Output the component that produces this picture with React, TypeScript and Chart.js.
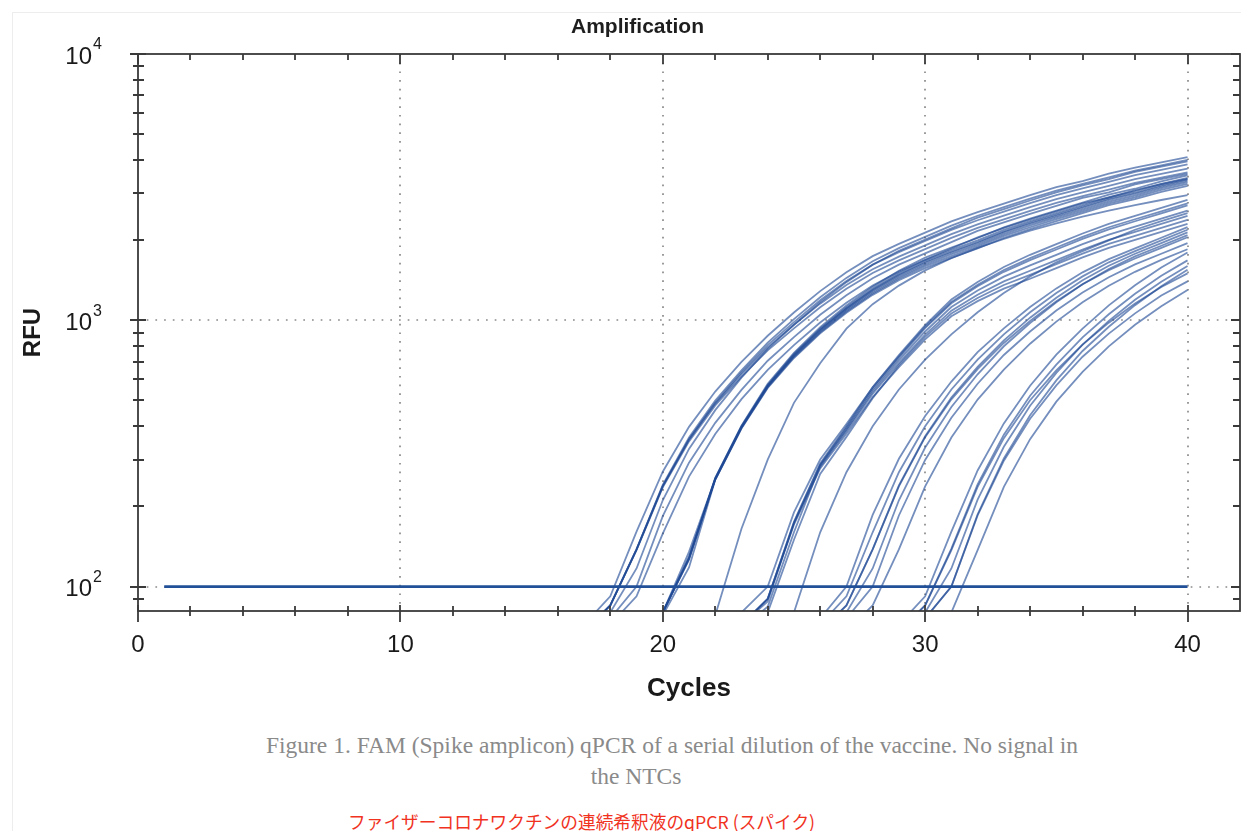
import React, { useEffect, useRef } from "react";
import { Chart, registerables } from "chart.js";

Chart.register(...registerables);

// ---------- axis definitions ----------
const xMajorTicks = [0, 10, 20, 30, 40];
const xMinorTicks = [2, 4, 6, 8, 12, 14, 16, 18, 22, 24, 26, 28, 32, 34, 36, 38];
const xGridCycles = [10, 20, 30, 40];
const yMajorTicks = [100, 1000, 10000];
const yExponents = ["2", "3", "4"];
const yMinorTicks = [90, 200, 300, 400, 500, 600, 700, 800, 900, 2000, 3000, 4000, 5000, 6000, 7000, 8000, 9000];
const yGridRFU = [100, 1000];

// ---------- threshold ----------
const thresholdCycles = [1, 40];
const thresholdRFU = [100, 100];

// ---------- amplification curves (RFU per cycle, starting at the given cycle) ----------
const groupAStart = 17;
const groupA = [
  [72, 92, 161, 270, 398, 540, 698, 875, 1070, 1287, 1515, 1742, 1936, 2134, 2352, 2547, 2743, 2954, 3165, 3334, 3552, 3741, 3917, 4102],
  [68, 85, 138, 241, 363, 500, 649, 824, 1010, 1221, 1443, 1666, 1866, 2057, 2266, 2470, 2660, 2864, 3069, 3251, 3443, 3648, 3819, 4000],
  [68, 85, 138, 239, 358, 491, 638, 807, 985, 1189, 1404, 1618, 1803, 1985, 2185, 2375, 2558, 2754, 2951, 3127, 3311, 3508, 3672, 3850],
  [68, 85, 138, 238, 356, 487, 628, 791, 962, 1155, 1356, 1555, 1734, 1911, 2106, 2294, 2471, 2661, 2851, 3020, 3199, 3388, 3548, 3715],
  [65, 80, 117, 211, 329, 460, 609, 781, 962, 1169, 1391, 1618, 1824, 2010, 2215, 2428, 2617, 2818, 3020, 3214, 3388, 3606, 3776, 3954],
  [68, 85, 137, 236, 351, 479, 614, 771, 933, 1119, 1313, 1505, 1679, 1850, 2039, 2222, 2392, 2576, 2761, 2924, 3097, 3281, 3436, 3597],
  [63, 76, 100, 184, 292, 412, 548, 705, 865, 1049, 1242, 1439, 1619, 1784, 1965, 2166, 2332, 2512, 2692, 2884, 3020, 3236, 3388, 3548],
  [62, 72, 92, 158, 259, 374, 506, 652, 807, 981, 1164, 1351, 1524, 1688, 1860, 2049, 2222, 2393, 2564, 2748, 2891, 3083, 3243, 3396],
];

const groupBStart = 19;
const groupB = [
  [62, 80, 128, 256, 402, 578, 755, 942, 1137, 1338, 1535, 1720, 1877, 2037, 2234, 2408, 2580, 2764, 2962, 3119, 3323, 3500],
  [62, 80, 128, 255, 400, 572, 748, 930, 1120, 1317, 1506, 1684, 1838, 1995, 2188, 2358, 2527, 2707, 2901, 3055, 3255, 3428],
  [62, 80, 127, 254, 397, 567, 739, 918, 1102, 1293, 1475, 1645, 1796, 1949, 2138, 2304, 2469, 2645, 2834, 2985, 3180, 3349],
  [62, 80, 126, 253, 396, 564, 734, 909, 1091, 1277, 1455, 1621, 1770, 1921, 2106, 2270, 2433, 2606, 2793, 2941, 3134, 3300],
  [62, 78, 118, 252, 394, 561, 728, 901, 1079, 1262, 1436, 1597, 1743, 1892, 2075, 2236, 2397, 2567, 2751, 2897, 3087, 3251],
  [62, 80, 130, 252, 392, 557, 722, 893, 1067, 1246, 1415, 1571, 1715, 1861, 2041, 2200, 2358, 2526, 2707, 2850, 3037, 3198],
  [62, 80, 135, 254, 398, 569, 742, 923, 1110, 1302, 1487, 1661, 1813, 1968, 2158, 2326, 2492, 2670, 2861, 3013, 3210, 3381],
];

const singleS1Start = 21;
const singleS1 = [62, 78, 165, 300, 490, 690, 930, 1150, 1350, 1540, 1710, 1870, 2020, 2170, 2310, 2450, 2580, 2710, 2830, 2950];

const groupCStart = 22;
const groupC = [
  [62, 72, 90, 175, 290, 400, 560, 740, 960, 1197, 1393, 1585, 1762, 1932, 2118, 2301, 2466, 2642, 2831],
  [62, 72, 90, 174, 287, 395, 550, 723, 934, 1159, 1343, 1521, 1683, 1845, 2023, 2197, 2355, 2523, 2704],
  [62, 70, 84, 160, 285, 389, 540, 707, 908, 1122, 1294, 1459, 1607, 1762, 1932, 2099, 2249, 2410, 2582],
  [62, 80, 100, 190, 300, 408, 560, 732, 946, 1173, 1361, 1545, 1712, 1877, 2058, 2236, 2396, 2567, 2751],
  [62, 72, 88, 173, 282, 384, 530, 691, 884, 1087, 1247, 1400, 1535, 1683, 1845, 2004, 2148, 2301, 2466],
  [60, 68, 80, 150, 265, 365, 510, 679, 866, 1061, 1213, 1357, 1482, 1625, 1781, 1935, 2074, 2222, 2381],
  [62, 72, 90, 171, 278, 376, 515, 667, 848, 1035, 1180, 1315, 1432, 1571, 1722, 1871, 2005, 2148, 2302],
];

const singleS2Start = 24;
const singleS2 = [72, 80, 160, 269, 400, 550, 712, 886, 1072, 1266, 1462, 1651, 1820, 1995, 2188, 2358, 2527];

const groupDStart = 25;
const groupD = [
  [63, 76, 100, 186, 302, 437, 589, 759, 933, 1122, 1318, 1514, 1698, 1862, 2042, 2239],
  [62, 72, 92, 160, 269, 400, 550, 712, 886, 1072, 1266, 1462, 1651, 1820, 1995, 2188],
  [60, 68, 85, 138, 240, 367, 513, 668, 841, 1023, 1216, 1413, 1603, 1778, 1950, 2138],
  [60, 68, 85, 138, 238, 364, 505, 656, 822, 995, 1179, 1365, 1542, 1706, 1871, 2051],
  [59, 65, 80, 117, 211, 333, 473, 627, 799, 977, 1168, 1365, 1558, 1738, 1905, 2089],
  [58, 63, 76, 100, 185, 299, 431, 578, 741, 908, 1089, 1271, 1452, 1622, 1778, 1950],
  [57, 60, 68, 85, 138, 238, 363, 504, 653, 817, 989, 1169, 1349, 1521, 1687, 1849],
];

const groupEStart = 28;
const groupE = [
  [62, 72, 92, 161, 273, 410, 568, 743, 931, 1138, 1355, 1578, 1796],
  [60, 68, 85, 139, 242, 372, 521, 682, 863, 1054, 1259, 1469, 1679],
  [59, 65, 80, 117, 212, 335, 478, 635, 810, 995, 1194, 1396, 1600],
  [59, 63, 76, 100, 187, 303, 440, 595, 767, 946, 1140, 1343, 1549],
  [60, 68, 85, 137, 237, 361, 501, 649, 811, 980, 1156, 1334, 1500],
  [59, 63, 76, 100, 185, 297, 427, 570, 730, 891, 1062, 1239, 1400],
  [57, 60, 68, 80, 137, 237, 358, 495, 640, 798, 962, 1130, 1300],
];

const curveGroups = [
  { start: groupAStart, curves: groupA },
  { start: groupBStart, curves: groupB },
  { start: singleS1Start, curves: [singleS1] },
  { start: groupCStart, curves: groupC },
  { start: singleS2Start, curves: [singleS2] },
  { start: groupDStart, curves: groupD },
  { start: groupEStart, curves: groupE },
];

const SANS = "'Liberation Sans', Arial, Helvetica, sans-serif";
const SERIF = "'Liberation Serif', 'DejaVu Serif', serif";
const AXIS_COLOR = "#3a3a3a";
const CURVE_COLOR = "rgba(30, 72, 148, 0.62)";
const THRESHOLD_COLOR = "#214f98";

const axesPlugin = {
  id: "qpcrAxes",
  beforeDatasetsDraw(chart: any) {
    const { ctx, chartArea: a, scales } = chart;
    const xs = scales.x;
    const ys = scales.y;
    ctx.save();
    ctx.strokeStyle = "#8a8a8a";
    ctx.lineWidth = 1.7;
    ctx.setLineDash([1.7, 7]);
    ctx.beginPath();
    for (const c of xGridCycles) {
      const px = Math.round(xs.getPixelForValue(c));
      ctx.moveTo(px, a.top);
      ctx.lineTo(px, a.bottom);
    }
    for (const v of yGridRFU) {
      const py = Math.round(ys.getPixelForValue(v));
      ctx.moveTo(a.left, py);
      ctx.lineTo(a.right, py);
    }
    ctx.stroke();
    ctx.restore();
  },
  afterDatasetsDraw(chart: any) {
    const { ctx, chartArea: a, scales } = chart;
    const xs = scales.x;
    const ys = scales.y;
    ctx.save();
    ctx.strokeStyle = AXIS_COLOR;
    ctx.lineWidth = 1.8;
    ctx.setLineDash([]);
    ctx.strokeRect(a.left, a.top, a.right - a.left, a.bottom - a.top);
    ctx.beginPath();
    for (const c of xMajorTicks) {
      const px = Math.round(xs.getPixelForValue(c));
      ctx.moveTo(px, a.bottom - 6);
      ctx.lineTo(px, a.bottom + 11);
      ctx.moveTo(px, a.top);
      ctx.lineTo(px, a.top + 10);
    }
    for (const c of xMinorTicks) {
      const px = Math.round(xs.getPixelForValue(c));
      ctx.moveTo(px, a.bottom - 5);
      ctx.lineTo(px, a.bottom + 5);
      ctx.moveTo(px, a.top);
      ctx.lineTo(px, a.top + 6);
    }
    for (const v of yMajorTicks) {
      const py = Math.round(ys.getPixelForValue(v));
      ctx.moveTo(a.left - 8, py);
      ctx.lineTo(a.left + 8, py);
      ctx.moveTo(a.right - 9, py);
      ctx.lineTo(a.right, py);
    }
    for (const v of yMinorTicks) {
      const py = Math.round(ys.getPixelForValue(v));
      ctx.moveTo(a.left - 5, py);
      ctx.lineTo(a.left + 6, py);
      ctx.moveTo(a.right - 7, py);
      ctx.lineTo(a.right, py);
    }
    ctx.stroke();

    ctx.fillStyle = "#1a1a1a";
    yMajorTicks.forEach((v, i) => {
      const py = ys.getPixelForValue(v);
      ctx.font = `24px ${SANS}`;
      ctx.textAlign = "right";
      ctx.textBaseline = "middle";
      ctx.fillText("10", 92, py + 3);
      ctx.font = `16px ${SANS}`;
      ctx.textAlign = "left";
      ctx.fillText(yExponents[i], 93, py - 9);
    });
    ctx.restore();
  },
};

function AmplificationChart() {
  const canvasRef = useRef<HTMLCanvasElement | null>(null);

  useEffect(() => {
    const canvas = canvasRef.current;
    if (!canvas) return;

    const curveDatasets = curveGroups.flatMap((g) =>
      g.curves.map((vals) => ({
        data: vals.map((v, i) => ({ x: g.start + i, y: v })),
        borderColor: CURVE_COLOR,
        borderWidth: 1.8,
        pointRadius: 0,
        tension: 0,
        fill: false,
      }))
    );

    const thresholdDataset = {
      data: thresholdCycles.map((c, i) => ({ x: c, y: thresholdRFU[i] })),
      borderColor: THRESHOLD_COLOR,
      borderWidth: 2.8,
      pointRadius: 0,
      tension: 0,
      fill: false,
    };

    const chart = new Chart(canvas, {
      type: "line",
      data: { datasets: [thresholdDataset, ...curveDatasets] },
      plugins: [axesPlugin],
      options: {
        animation: false,
        responsive: false,
        devicePixelRatio: 1,
        events: [],
        layout: { padding: { left: 35, right: 1, top: 0, bottom: 0 } },
        plugins: {
          legend: { display: false },
          tooltip: { enabled: false },
          title: {
            display: true,
            text: "Amplification",
            color: "#1e1e1e",
            font: { family: SANS, size: 21, weight: "bold" },
            padding: { top: 14.4, bottom: 14.4 },
          },
        },
        scales: {
          x: {
            type: "linear",
            min: 0,
            max: 42,
            afterFit: (s: any) => {
              s.height = 109;
            },
            grid: { display: false },
            border: { display: false },
            ticks: {
              stepSize: 10,
              autoSkip: false,
              includeBounds: false,
              maxRotation: 0,
              padding: 12,
              color: "#1a1a1a",
              font: { family: SANS, size: 24 },
              callback: (v: any) => (Number(v) % 10 === 0 && Number(v) <= 40 ? String(v) : ""),
            },
            title: {
              display: true,
              text: "Cycles",
              color: "#1a1a1a",
              font: { family: SANS, size: 26, weight: "bold" },
              padding: { top: 0, bottom: 16 },
            },
          },
          y: {
            type: "logarithmic",
            min: 81,
            max: 10000,
            afterFit: (s: any) => {
              s.width = 103;
            },
            grid: { display: false },
            border: { display: false },
            ticks: { display: false },
            title: {
              display: true,
              text: "RFU",
              color: "#1a1a1a",
              font: { family: SANS, size: 24, weight: "bold" },
              padding: { top: -16.4, bottom: 0 },
            },
          },
        },
      },
    } as any);

    return () => chart.destroy();
  }, []);

  return (
    <canvas
      ref={canvasRef}
      width={1241}
      height={720}
      style={{ position: "absolute", left: 0, top: 0 }}
    />
  );
}

export default function App() {
  return (
    <div
      style={{
        position: "absolute",
        left: 0,
        top: 0,
        width: 1241,
        height: 831,
        overflow: "hidden",
        background: "#ffffff",
      }}
    >
      <div
        style={{
          position: "absolute",
          left: 12,
          top: 12,
          width: 1240,
          height: 830,
          borderTop: "1px solid #ededed",
          borderLeft: "1px solid #ededed",
        }}
      />
      <AmplificationChart />
      <div
        style={{
          position: "absolute",
          left: 122,
          top: 729,
          width: 1100,
          textAlign: "center",
          fontFamily: SERIF,
          fontSize: 23.5,
          lineHeight: "32px",
          color: "#8a8a8a",
          whiteSpace: "nowrap",
        }}
      >
        Figure 1. FAM (Spike amplicon) qPCR of a serial dilution of the vaccine. No signal in
      </div>
      <div
        style={{
          position: "absolute",
          left: 436,
          top: 760,
          width: 400,
          textAlign: "center",
          fontFamily: SERIF,
          fontSize: 23.5,
          lineHeight: "32px",
          color: "#8a8a8a",
        }}
      >
        the NTCs
      </div>
      <div
        style={{
          position: "absolute",
          left: 348,
          top: 811,
          fontFamily: "'Noto Sans CJK JP', 'Noto Sans', sans-serif",
          fontSize: 17.7,
          lineHeight: "21px",
          color: "#f0321e",
          whiteSpace: "nowrap",
        }}
      >
        ファイザーコロナワクチンの連続希釈液のqPCR (スパイク)
      </div>
    </div>
  );
}
